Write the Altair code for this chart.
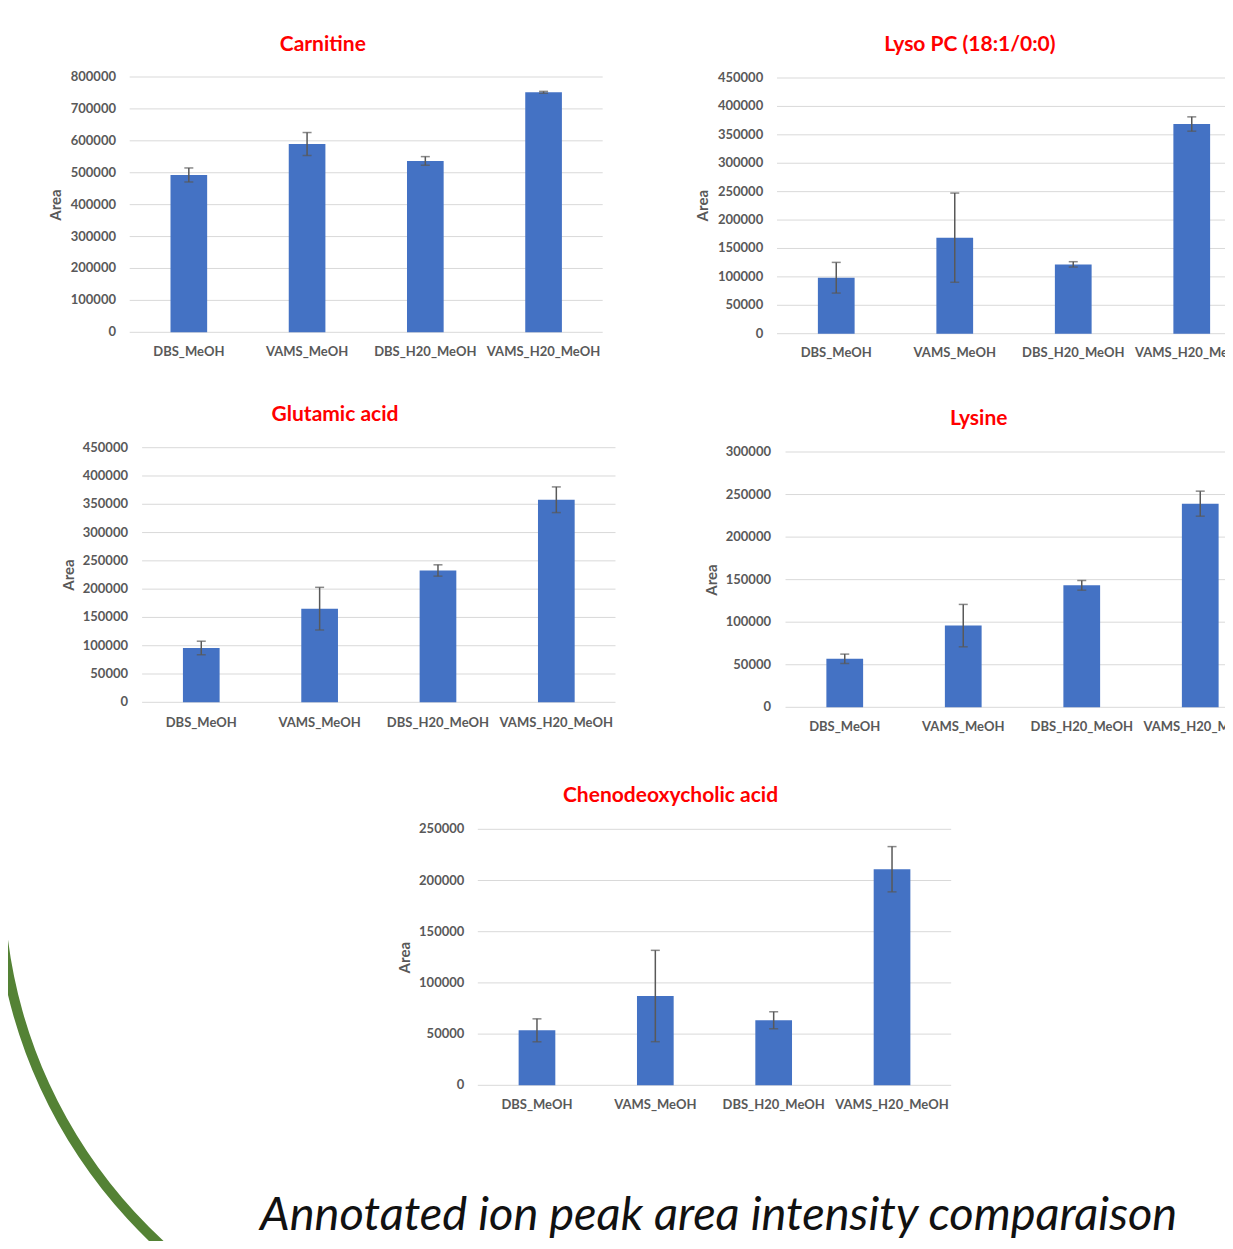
import altair as alt
import pandas as pd

# ---------------- data ----------------
CATEGORIES = ["DBS_MeOH", "VAMS_MeOH", "DBS_H20_MeOH", "VAMS_H20_MeOH"]

CARNITINE = [493000, 590000, 537000, 752000]
CARNITINE_ERR = [22000, 36000, 13500, 3000]

LYSOPC = [98500, 169000, 122000, 369000]
LYSOPC_ERR = [27000, 78500, 4700, 12600]

GLUTAMIC = [96000, 165500, 233000, 358000]
GLUTAMIC_ERR = [12000, 37700, 10000, 22700]

LYSINE = [57000, 96000, 143300, 239300]
LYSINE_ERR = [5500, 24900, 5700, 14700]

CHENO = [53700, 87200, 63500, 211000]
CHENO_ERR = [11200, 44600, 8300, 22100]

TITLES = ["Carnitine", "Lyso PC (18:1/0:0)", "Glutamic acid", "Lysine",
          "Chenodeoxycholic acid"]
Y_MAX = [800000, 450000, 450000, 300000, 250000]
Y_STEP = [100000, 50000, 50000, 50000, 50000]
Y_TITLE = "Area"
CAPTION = "Annotated ion peak area intensity comparaison"

SERIES = [(CARNITINE, CARNITINE_ERR), (LYSOPC, LYSOPC_ERR),
          (GLUTAMIC, GLUTAMIC_ERR), (LYSINE, LYSINE_ERR), (CHENO, CHENO_ERR)]

# ---------------- layout (pixels inside the drawing area) ----------------
# the drawing area starts at the page's 8px margin; keep page = 1233 x 1249
W, H = 1217, 1233
LAYOUT = [
    dict(x0=121.7, x1=594.7, yb=324.3, yt=69.0, tx=314.8, ty=42.7, ax=47.6, ay=197.0, lp=13.7, cp=20.0),
    dict(x0=769.0, x1=1243.0, yb=325.7, yt=70.0, tx=961.9, ty=43.0, ax=695.0, ay=197.7, lp=13.8, cp=19.6),
    dict(x0=134.1, x1=607.5, yb=694.3, yt=439.7, tx=327.0, ty=413.0, ax=61.0, ay=567.0, lp=14.1, cp=20.4),
    dict(x0=777.5, x1=1251.5, yb=699.3, yt=444.0, tx=970.7, ty=417.0, ax=703.7, ay=572.0, lp=14.5, cp=20.0),
    dict(x0=469.8, x1=943.2, yb=1077.3, yt=821.3, tx=662.5, ty=794.3, ax=396.5, ay=949.7, lp=13.5, cp=19.7),
]

FONT = "Lato"
GRAY = "#595959"
GRID = "#D9D9D9"
BAR = "#4472C4"

one = alt.Data(values=[{"k": 0}])


def panel(values, errs, ymax, ystep, L):
    df = pd.DataFrame({"cat": CATEGORIES, "area": values, "err": errs})
    df["lo"] = df["area"] - df["err"]
    df["hi"] = df["area"] + df["err"]
    ticks = pd.DataFrame({"v": list(range(0, ymax + 1, ystep))})

    xs = alt.Scale(domain=CATEGORIES, range=[L["x0"], L["x1"]],
                   paddingInner=0.69, paddingOuter=0.345)
    ys = alt.Scale(domain=[0, ymax], range=[L["yb"], L["yt"]], nice=False, zero=True)

    def X():
        return alt.X("cat:N", sort=CATEGORIES, scale=xs, axis=None)

    def Y(f):
        return alt.Y(f, scale=ys, axis=None)

    grid = alt.Chart(ticks).mark_rule(color=GRID, strokeWidth=1).encode(
        y=Y("v:Q"), x=alt.value(L["x0"]), x2=alt.value(L["x1"]))
    tick_labels = alt.Chart(ticks).mark_text(
        align="right", baseline="middle", font=FONT, fontSize=13,
        fontWeight="bold", color=GRAY).encode(
        y=Y("v:Q"), x=alt.value(L["x0"] - L["lp"]),
        text=alt.Text("v:Q", format="d"))

    base = alt.Chart(df)
    bars = base.mark_bar(color=BAR).encode(x=X(), y=Y("area:Q"))
    rule = base.mark_rule(color=GRAY, strokeWidth=1.5).encode(
        x=X(), y=Y("lo:Q"), y2="hi:Q")
    tick_lo = base.mark_tick(color=GRAY, size=9, thickness=1.5).encode(
        x=X(), y=Y("lo:Q"))
    tick_hi = base.mark_tick(color=GRAY, size=9, thickness=1.5).encode(
        x=X(), y=Y("hi:Q"))
    cat_labels = base.mark_text(
        align="center", baseline="middle", font=FONT, fontSize=13,
        fontWeight="bold", color=GRAY).encode(
        x=X(), y=alt.value(L["yb"] + L["cp"]), text="cat:N")
    area_title = alt.Chart(one).mark_text(
        text=Y_TITLE, angle=270, align="center", baseline="middle", font=FONT,
        fontSize=15, fontWeight="bold", color=GRAY).encode(
        x=alt.value(L["ax"]), y=alt.value(L["ay"]))
    return alt.layer(grid, tick_labels, bars, rule, tick_lo, tick_hi,
                     cat_labels, area_title)


layers = []

# decorative green arc on the left
layers.append(
    alt.Chart(one).mark_arc(color="#548235").encode(
        x=alt.value(491), y=alt.value(869),
        theta=alt.value(3.5), theta2=alt.value(4.75),
        radius=alt.value(505), radius2=alt.value(495),
    )
)

for (vals, errs), ymax, ystep, L in zip(SERIES, Y_MAX, Y_STEP, LAYOUT):
    layers.append(panel(vals, errs, ymax, ystep, L))

for t, L in zip(TITLES, LAYOUT):
    layers.append(
        alt.Chart(one).mark_text(text=t, font=FONT, fontSize=21, fontWeight="bold",
                                 color="#FF0000", align="center",
                                 baseline="alphabetic").encode(
            x=alt.value(L["tx"]), y=alt.value(L["ty"]))
    )

layers.append(
    alt.Chart(one).mark_text(text=CAPTION, font=FONT, fontSize=47, fontStyle="italic",
                             color="#111111", align="left",
                             baseline="alphabetic").encode(
        x=alt.value(252), y=alt.value(1222))
)

chart = alt.layer(*layers).resolve_scale(
    x="independent", y="independent"
).properties(
    width=W, height=H, padding=0,
    autosize=alt.AutoSizeParams(type="none"),
).configure_view(strokeWidth=0)

chart.save("out.html", embed_options={"renderer": "svg", "actions": False})
